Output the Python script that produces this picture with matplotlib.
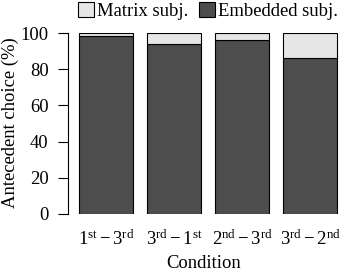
import matplotlib
matplotlib.use("Agg")
import matplotlib.pyplot as plt
from matplotlib.patches import Patch

plt.rcParams['font.family'] = ['Liberation Serif', 'DejaVu Serif']
plt.rcParams['mathtext.fontset'] = 'custom'
plt.rcParams['mathtext.rm'] = 'Liberation Serif'
plt.rcParams['mathtext.it'] = 'Liberation Serif:italic'

conditions = [r'$1^{\mathrm{st}} - 3^{\mathrm{rd}}$', r'$3^{\mathrm{rd}} - 1^{\mathrm{st}}$',
              r'$2^{\mathrm{nd}} - 3^{\mathrm{rd}}$', r'$3^{\mathrm{rd}} - 2^{\mathrm{nd}}$']
embedded = [98.6, 93.9, 96.1, 86.2]
matrix = [100 - v for v in embedded]

FS = 13.4
W, H = 340, 273
fig = plt.figure(figsize=(W / 100, H / 100), dpi=100)
ax = fig.add_axes([68 / W, 1 - 214 / H, 272 / W, 181 / H])

x = range(len(conditions))
ax.bar(x, embedded, width=0.794, color='#4d4d4d', edgecolor='black', linewidth=0.8)
ax.bar(x, matrix, bottom=embedded, width=0.794, color='#e6e6e6', edgecolor='black', linewidth=0.8)

ax.set_xlim(-0.559, 3.44)
ax.set_ylim(0, 100)
for s in ['top', 'right', 'bottom']:
    ax.spines[s].set_visible(False)
ax.spines['left'].set_linewidth(0.8)
ax.set_yticks([0, 20, 40, 60, 80, 100])
ax.tick_params(axis='y', length=7, width=0.8, labelsize=FS, pad=7)
ax.set_xticks(list(x))
ax.set_xticklabels(conditions, fontsize=FS)
ax.tick_params(axis='x', length=0, pad=11)

# axis titles placed by hand, like R's mtext lines
fig.text(10 / W, 1 - 123 / H, 'Antecedent choice (%)', fontsize=FS, rotation=90,
         ha='center', va='center')
fig.text(204 / W, 1 - 263 / H, 'Condition', fontsize=FS, ha='center', va='center')

handles = [Patch(facecolor='#e6e6e6', edgecolor='black', linewidth=0.8, label='Matrix subj.'),
           Patch(facecolor='#4d4d4d', edgecolor='black', linewidth=0.8, label='Embedded subj.')]
fig.legend(handles=handles, loc='center right', bbox_to_anchor=(338 / W, 1 - 11 / H), ncol=2,
           frameon=False, fontsize=FS, handlelength=0.85, handleheight=0.85,
           handletextpad=0.15, columnspacing=0.6, borderaxespad=0, borderpad=0)

fig.savefig('out.png', dpi=100)
